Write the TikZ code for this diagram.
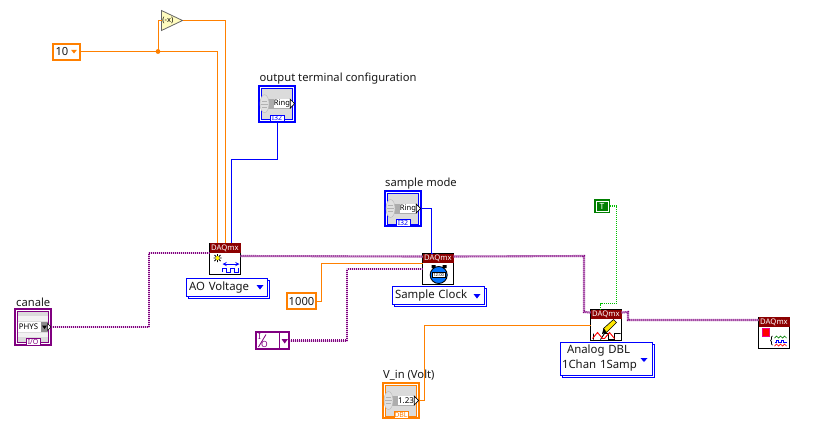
\documentclass[tikz,border=0pt]{standalone}
\usepackage{fontspec}
\setmainfont{Noto Sans}
\usetikzlibrary{arrows,positioning,shapes,shadows,calc}
\definecolor{lvorange}{HTML}{FF8000}
\definecolor{lvblue}{HTML}{0000FF}
\definecolor{lvpurple}{HTML}{800080}
\definecolor{lvgreen}{HTML}{007F00}
\definecolor{daqred}{HTML}{8C0000}
% frame of a control, with its type tag
\newcommand{\ctlframe}[4]{%
\node[ctl node,draw=#3] (#1) at (#2) {};
\draw[#3,fill=black!14,line width=.8pt] ($(#1.center)+(-15.6,-15.6)$) rectangle ($(#1.center)+(15.6,15.6)$);
\node[tag node,draw=#3,text=#3] (#1 tag) at ($(#1.south)+(0,-3.2)$) {#4};
}
% gray wheel and value box
\newcommand{\wheelbox}[2]{%
\begin{scope}[shift={(#1.center)}]
\fill[black!32] (-11,-5) rectangle (14,5);
\fill[black!12,draw=black!28,line width=.4pt] (-12.5,0) ellipse (4.5 and 9);
\draw[black!30,line width=.4pt] (-15,-3) -- (-10,-3) (-16,0) -- (-9,0) (-15,3) -- (-10,3);
\node[val node] (#1 val) at (5,0) {#2};
\draw[black,fill=white,line width=.6pt] (13.2,-4.5) -- (17.6,0) -- (13.2,4.5) -- cycle;
\end{scope}
}
% vi icon
\newcommand{\daqnode}[2]{%
\node[daq node] (#1) at (#2) {};
\fill[daqred] (#1.north west) rectangle ($(#1.north east)+(0,9.5)$);
\node[daq title] (#1 title) at ($(#1.north)+(0,5)$) {DAQmx};
}
\begin{document}
\begin{tikzpicture}[x=1pt,y=-1pt,
main label/.style={font=\fontsize{11.2}{13}\selectfont,inner sep=0pt,text=black!90},
ctl node/.style={rectangle,line width=2pt,fill=white,minimum size=35.6pt,inner sep=0pt,outer sep=0pt},
tag node/.style={rectangle,line width=.8pt,fill=white,minimum width=14pt,minimum height=6.6pt,inner sep=0pt,outer sep=0pt,font=\bfseries\fontsize{7}{7}\selectfont},
val node/.style={rectangle,fill=white,minimum width=16pt,minimum height=9pt,inner sep=0pt,outer sep=0pt,font=\fontsize{8}{8}\selectfont},
daq node/.style={rectangle,draw=black,line width=1pt,fill=white,minimum size=31pt,inner sep=0pt,outer sep=0pt},
daq title/.style={inner sep=0pt,text=white,font=\bfseries\fontsize{7.7}{8}\selectfont},
enum node/.style={rectangle,draw=lvblue,line width=1pt,fill=white,inner sep=0pt,outer sep=0pt,align=left,font=\fontsize{11.4}{15}\selectfont,text=black!90,
  copy shadow={shadow xshift=2pt,shadow yshift=-2pt,draw=lvblue,fill=white}},
const node/.style={rectangle,draw=lvorange,line width=2pt,fill=white,inner sep=0pt,outer sep=0pt,font=\fontsize{11.2}{13}\selectfont,text=black!90},
orange wire/.style={draw=lvorange,line width=1pt},
blue wire/.style={draw=lvblue,line width=1pt},
green wire/.style={draw=green!75!black,line width=1.1pt,dash pattern=on 1.2pt off .8pt},
purple wire/.style={draw=lvpurple,line width=2.1pt,dash pattern=on 1pt off 1pt,preaction={draw=lvpurple!18,line width=2pt,solid}}]
\useasboundingbox (0,0) rectangle (815,432);

% constants and controls
\node[const node,minimum width=27pt,minimum height=16pt,text width=21pt,inner xsep=3pt] (ten) at (66,51.5) {10};
\fill[lvorange] ($(ten.center)+(5,-1.7)$) -- ($(ten.center)+(11,-1.7)$) -- ($(ten.center)+(8,2)$) -- cycle;
\coordinate (tee) at (158,51.5);
\node[isosceles triangle,isosceles triangle stretches,draw=black!60,fill=yellow!25,line width=.8pt,minimum width=20pt,minimum height=21pt,inner sep=0pt,outer sep=0pt,anchor=lower side,font=\fontsize{7.5}{8}\selectfont] (neg) at (161.5,20.5) {(-x)\hspace{7pt}};

\ctlframe{outcfg}{277,103.7}{lvblue}{I32}
\wheelbox{outcfg}{\bfseries\fontsize{7.6}{8}\selectfont Ring}
\node[main label,anchor=base west] (outcfg lbl) at (259.5,81) {output terminal configuration};

\ctlframe{mode}{403,208.5}{lvblue}{I32}
\wheelbox{mode}{\bfseries\fontsize{7.6}{8}\selectfont Ring}
\node[main label,anchor=base west] (mode lbl) at (385,186) {sample mode};

\ctlframe{vin}{401,400.5}{lvorange}{DBL}
\wheelbox{vin}{1.23}
\node[main label,anchor=base west] (vin lbl) at (383,378) {V\_in (Volt)};

\ctlframe{chan}{33,327}{lvpurple}{I/O}
\node[main label,anchor=base west] (chan lbl) at (16,306) {canale};
\begin{scope}[shift={(chan.center)}]
\fill[black!5] (-15,-11) rectangle (15,-6);
\fill[black!5] (-15,6) rectangle (15,10);
\node[val node,minimum width=24pt,minimum height=10pt,anchor=west,font=\fontsize{7.8}{8}\selectfont,text width=22pt,inner xsep=1pt] (chan val) at (-15,0) {PHYS};
\fill[black!45] (8,-5) rectangle (15,5);
\fill[black] (9,-1.5) -- (14,-1.5) -- (11.5,2) -- cycle;
\draw[black,fill=white,line width=.5pt] (14.5,-3.5) -- (18,0) -- (14.5,3.5) -- cycle;
\end{scope}

\node[const node,minimum width=29pt,minimum height=16pt] (rate) at (301.5,301) {1000};
\node[rectangle,draw=lvgreen,fill=lvgreen,minimum width=15pt,minimum height=13pt,inner sep=0pt,outer sep=0pt,text=white,font=\bfseries\fontsize{8.5}{9}\selectfont] (tval) at (602,206) {T};
\draw[white,line width=.8pt] ($(tval.center)+(-6,-5)$) rectangle ($(tval.center)+(6,5)$);

\node[const node,draw=lvpurple,minimum width=33pt,minimum height=17pt] (term) at (272.5,340.5) {};
\draw[lvpurple,line width=1pt] (279,331) -- (279,350);
\node[inner sep=0pt,text=lvpurple,font=\fontsize{8.5}{9}\selectfont] (term i) at (259.5,336.5) {I};
\node[inner sep=0pt,text=lvpurple,font=\fontsize{8.5}{9}\selectfont] (term o) at (264.5,344.5) {O};
\draw[lvpurple,line width=.8pt] (258.5,347) -- (266,334.5);
\fill[lvpurple] (281.5,339) -- (288,339) -- (284.7,343.5) -- cycle;

% daqmx nodes
\daqnode{ao}{225,258.5}
\daqnode{clk}{438,269}
\daqnode{wr}{606,325}
\daqnode{halt}{774,332.5}

% ao icon
\begin{scope}[shift={(ao.north west)}]
\draw[black,line width=.8pt] (8,11) -- (8,19) (4,15) -- (12,15) (5,12) -- (11,18) (11,12) -- (5,18);
\fill[yellow] (8,15) circle (2);
\draw[lvblue,line width=.9pt,<->,>=stealth] (13,21) -- (30,21);
\draw[lvblue,line width=.9pt] (13,29) -- (13,25) -- (17,25) -- (17,29) -- (21,29) -- (21,25) -- (25,25) -- (25,29) -- (29,29) -- (29,25);
\end{scope}
% clock icon
\begin{scope}[shift={(clk.north west)}]
\fill[black] (9,11.5) rectangle (13,14.5) (20,11.5) rectangle (24,14.5);
\fill[lvblue!55!cyan,draw=black,line width=.9pt] (16.2,21.5) circle (8.5);
\fill[white] (9.5,19) rectangle (23,24);
\draw[black,line width=.7pt] (9.5,19) rectangle (23,24);
\node[inner sep=0pt,font=\bfseries\fontsize{4.2}{4}\selectfont] (clk txt) at (16.2,21.5) {12:00};
\end{scope}
% pencil and waves
\begin{scope}[shift={(wr.north west)}]
\fill[yellow!90!orange,draw=black,line width=.6pt] (13,19) -- (23,10) -- (26,13) -- (16,23) -- cycle;
\fill[black] (13,19) -- (16,23) -- (11.5,24.5) -- cycle;
\draw[black,line width=.9pt] (3,24) -- (3,30) (10,30) -- (14,24) -- (18,24) -- (18,30) -- (24,30) -- (24,24) -- (30,24);
\draw[red,line width=.9pt] (2,29) -- (7,23) -- (12,29) -- (14,29) -- (19,23) -- (24,29);
\end{scope}
% stop icon
\begin{scope}[shift={(halt.north west)}]
\fill[red,draw=magenta,line width=1pt] (3.5,11.5) rectangle (11,19.5);
\draw[black,line width=.7pt] (14,19) .. controls (12,19) and (14,23) .. (12,23.5) .. controls (14,24) and (12,28) .. (14,28);
\draw[lvgreen,line width=.7pt] (16,21) -- (18,19) -- (20,21) -- (22,19) -- (24,21) -- (26,19) -- (28,21);
\draw[lvblue,line width=.8pt] (16,25) -- (18,25) -- (18,23) -- (20,23) -- (20,25) -- (23,25) -- (23,23) -- (25,23) -- (25,25) -- (28,25);
\draw[red,line width=.7pt] (16,29) -- (18,27) -- (20,29) -- (22,27) -- (24,29) -- (26,27) -- (28,29);
\end{scope}

% enums
\node[enum node,text width=75pt,minimum height=18pt,inner xsep=3pt] (aotype) at (226.5,287.5) {AO Voltage};
\fill[lvblue] (256.5,285) -- (263.5,285) -- (260,289.5) -- cycle;
\node[enum node,text width=86pt,minimum height=18pt,inner xsep=3pt] (clktype) at (438,295.5) {Sample Clock};
\fill[lvblue] (473.5,294) -- (480.5,294) -- (477,298.5) -- cycle;
\node[enum node,text width=88pt,minimum height=33pt,inner xsep=2pt] (wrtype) at (606,358.5) {\hspace*{5pt}Analog DBL\\1Chan 1Samp};
\fill[lvblue] (640.5,358) -- (647.5,358) -- (644,362) -- cycle;

% wires
\draw[orange wire] (ten.east) -- (tee) -| ($(ao.north west)+(8,0)$);
\draw[orange wire] (tee) -- ($(tee)+(0,-31)$) -- (neg.lower side);
\draw[orange wire] (neg.apex) -| ($(ao.north west)+(16,0)$);
\fill[lvorange] (tee) circle (2.4);
\draw[blue wire] (outcfg.south) -- ($(outcfg.south)+(0,38)$) -| ($(ao.north west)+(22,0)$);
\draw[blue wire] (mode.east) -- ($(mode.east)+(11,0)$) |- ($(clk.north west)+(10,0)$);
\draw[orange wire] (rate.east) -- ($(rate.east)+(5.5,0)$) |- ($(clk.west)+(0,-6)$);
\draw[orange wire] (vin.east) -- ($(vin.east)+(6,0)$) |- ($(wr.west)+(0,0)$);
\draw[green wire] (tval.east) -- ($(tval.east)+(7,0)$) |- ($(wr.north west)+(10,-6)$) -- ($(wr.north west)+(10,0)$);
\draw[purple wire] (chan.east) -- ($(chan.east)+(98,0)$) |- ($(ao.north west)+(0,10)$);
\draw[purple wire] ($(ao.north east)+(0,13)$) -- ($(clk.north west)+(0,3)$);
\draw[purple wire] ($(clk.north east)+(0,3)$) -- (584,256) -- (584,312) -- ($(wr.north west)+(0,3)$);
\draw[purple wire] ($(wr.north east)+(0,3)$) -- (628,312) -- (628,320) -- ($(halt.north west)+(0,3)$);
\draw[purple wire] (term.east) -- ($(term.east)+(58,0)$) |- ($(clk.west)+(0,0)$);
\end{tikzpicture}
\end{document}
